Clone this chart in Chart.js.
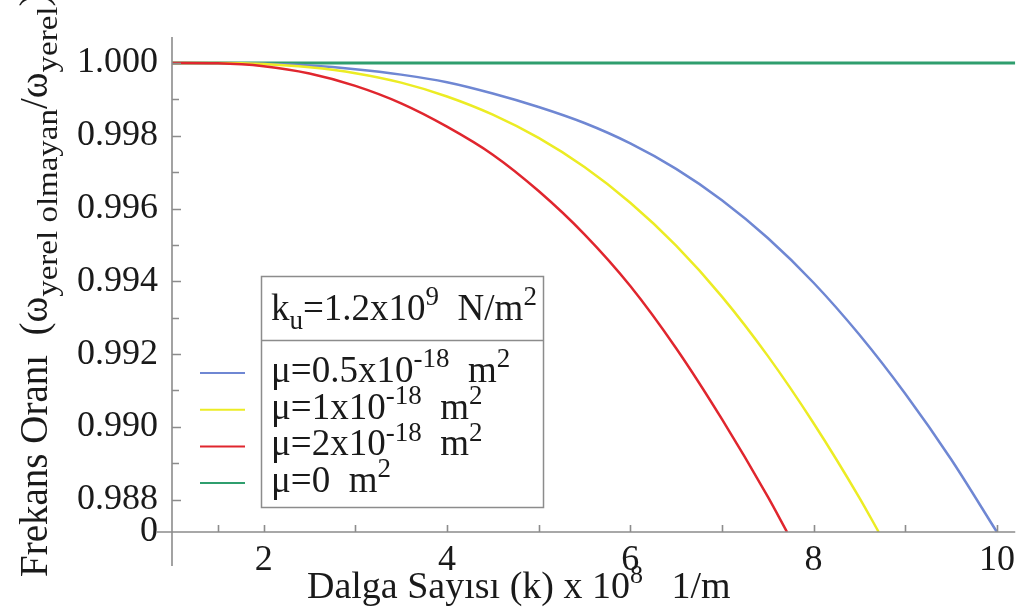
<!DOCTYPE html>
<html>
<head>
<meta charset="utf-8">
<script src="https://cdn.jsdelivr.net/npm/chart.js@4.4.1/dist/chart.umd.min.js"></script>
<style>
    html, body { margin: 0; padding: 0; background: #ffffff; }
</style>
</head>
<body>
<canvas id="myChart" width="1022" height="614"></canvas>
<script>
'use strict';

// wave number k (x 10^8 1/m) and frequency ratio
var kBlue = [1, 1.5, 2, 2.5, 3, 3.5, 4, 4.5, 5, 5.5, 6, 6.5, 7, 7.5, 8, 8.5, 9, 9.5, 10];
var blueValues = [1.00000, 1.00000, 0.99998, 0.99993, 0.99983, 0.99968, 0.99947, 0.99916, 0.99879, 0.99835,
                  0.99779, 0.99709, 0.99623, 0.99519, 0.99396, 0.99253, 0.99091, 0.98911, 0.98711];

var kYellow = [1, 1.5, 2, 2.5, 3, 3.5, 4, 4.5, 5, 5.5, 6, 6.5, 7, 7.5, 8, 8.5, 8.71];
var yellowValues = [1.00000, 1.00000, 0.99997, 0.99988, 0.99972, 0.99946, 0.99908, 0.99858, 0.99794, 0.99714,
                    0.99616, 0.99498, 0.99358, 0.99195, 0.99010, 0.98805, 0.98711];

var kRed = [1, 1.5, 2, 2.5, 3, 3.5, 4, 4.5, 5, 5.5, 6, 6.5, 7, 7.5, 7.71];
var redValues = [1.00000, 0.99999, 0.99991, 0.99971, 0.99937, 0.99889, 0.99825, 0.99748, 0.99648, 0.99529,
                 0.99387, 0.99216, 0.99021, 0.98808, 0.98711];

var kGreen = [1, 10.2];
var greenValues = [1.0, 1.0];

var xTickValues = [2, 4, 6, 8, 10];
var xTickLabels = ['2', '4', '6', '8', '10'];
var xMinorTicks = [1.5, 3, 5, 7, 9];

var yMin = 0.98711;
var yMax = 1.000714;
var yTickValues = [yMin, 0.988, 0.990, 0.992, 0.994, 0.996, 0.998, 1.000];
var yTickLabels = ['0', '0.988', '0.990', '0.992', '0.994', '0.996', '0.998', '1.000'];
var yMinorTicks = [0.989, 0.991, 0.993, 0.995, 0.997, 0.999];

var seriesColors = ['#6f87d3', '#ecec24', '#e0262e', '#2f9e6e'];

var SERIF = '"Liberation Serif", "Times New Roman", serif';

function points(ks, vs) {
    return ks.map(function(k, i) { return { x: k, y: vs[i] }; });
}

function lineSet(label, data, color, width, order) {
    return {
        label: label,
        data: data,
        borderColor: color,
        borderWidth: width,
        pointRadius: 0,
        fill: false,
        cubicInterpolationMode: 'monotone',
        order: order
    };
}

// text with sub / superscripts: parts = [[text, 'sup'|'sub'|'']]
function drawRich(c, x, y, parts, size, small, stretch) {
    parts.forEach(function(p) {
        var isSmall = p[1] === 'sup' || p[1] === 'sub';
        var fs = isSmall ? small : size;
        var sx = isSmall ? (stretch || 1) : 1;
        var dy = p[1] === 'sup' ? -size * 0.4 : (p[1] === 'sub' ? size * 0.25 : 0);
        c.font = fs + 'px ' + SERIF;
        c.save();
        c.translate(x, y + dy);
        c.scale(sx, 1);
        c.fillText(p[0], 0, 0);
        c.restore();
        x += c.measureText(p[0]).width * sx;
    });
    return x;
}

var axesPlugin = {
    id: 'crossAxes',
    afterDraw: function(chart) {
        var c = chart.ctx, a = chart.chartArea;
        var xs = chart.scales.x, ys = chart.scales.y;
        c.save();
        c.strokeStyle = '#8c8c8c';
        c.lineWidth = 1.6;
        c.beginPath();
        c.moveTo(157, a.bottom);
        c.lineTo(a.right, a.bottom);
        c.moveTo(a.left, a.top);
        c.lineTo(a.left, 566);
        xTickValues.concat(xMinorTicks).forEach(function(v) {
            var px = Math.round(xs.getPixelForValue(v)) + 0.5;
            c.moveTo(px, a.bottom);
            c.lineTo(px, a.bottom - 7);
        });
        yTickValues.slice(1).forEach(function(v) {
            var py = Math.round(ys.getPixelForValue(v)) + 0.5;
            c.moveTo(a.left, py);
            c.lineTo(a.left + 9, py);
        });
        yMinorTicks.forEach(function(v) {
            var py = Math.round(ys.getPixelForValue(v)) + 0.5;
            c.moveTo(a.left, py);
            c.lineTo(a.left + 7, py);
        });
        c.stroke();
        c.restore();
    }
};

var textPlugin = {
    id: 'richText',
    afterDraw: function(chart) {
        var c = chart.ctx;
        c.save();
        c.fillStyle = '#1a1a1a';
        c.textBaseline = 'alphabetic';
        c.textAlign = 'left';

        // x axis title
        drawRich(c, 307, 598, [['Dalga Sayısı (k) x 10', ''], ['8', 'sup'], ['   1/m', '']], 38, 26);

        // y axis title, rotated
        c.translate(47, 577);
        c.rotate(-Math.PI / 2);
        drawRich(c, 0, 0, [['Frekans Oranı  (ω', ''], ['yerel olmayan', 'sub'], ['/ω', ''], ['yerel', 'sub'], [')', '']], 39, 30, 1.1);
        c.restore();

        // legend box
        c.save();
        c.strokeStyle = '#8c8c8c';
        c.lineWidth = 1.5;
        c.strokeRect(261.5, 276.5, 282, 231);
        c.beginPath();
        c.moveTo(261.5, 340.5);
        c.lineTo(543.5, 340.5);
        c.stroke();

        c.fillStyle = '#1a1a1a';
        drawRich(c, 271, 320, [['k', ''], ['u', 'sub'], ['=1.2x10', ''], ['9', 'sup'], ['  N/m', ''], ['2', 'sup']], 37, 27);

        var entries = [
            [['μ=0.5x10', ''], ['-18', 'sup'], ['  m', ''], ['2', 'sup']],
            [['μ=1x10', ''], ['-18', 'sup'], ['  m', ''], ['2', 'sup']],
            [['μ=2x10', ''], ['-18', 'sup'], ['  m', ''], ['2', 'sup']],
            [['μ=0  m', ''], ['2', 'sup']]
        ];
        entries.forEach(function(parts, i) {
            var base = 382 + i * 36.7;
            c.fillStyle = '#1a1a1a';
            drawRich(c, 271, base, parts, 37, 27);
            c.strokeStyle = seriesColors[i];
            c.lineWidth = 2;
            c.beginPath();
            c.moveTo(200, base - 9);
            c.lineTo(245, base - 9);
            c.stroke();
        });
        c.restore();
    }
};

var ctx = document.getElementById('myChart');
var myChart = new Chart(ctx, {
    type: 'line',
    data: {
        datasets: [
            lineSet('μ=0 m²', points(kGreen, greenValues), seriesColors[3], 3, 4),
            lineSet('μ=0.5x10⁻¹⁸ m²', points(kBlue, blueValues), seriesColors[0], 2.5, 3),
            lineSet('μ=1x10⁻¹⁸ m²', points(kYellow, yellowValues), seriesColors[1], 2.5, 2),
            lineSet('μ=2x10⁻¹⁸ m²', points(kRed, redValues), seriesColors[2], 2.5, 1)
        ]
    },
    options: {
        responsive: false,
        animation: false,
        layout: { padding: { top: 37, right: 4, left: 0, bottom: 0 } },
        plugins: {
            legend: { display: false },
            tooltip: { enabled: false }
        },
        scales: {
            x: {
                type: 'linear',
                min: 1,
                max: 10.2,
                grid: { display: false, drawTicks: false },
                border: { display: false },
                afterBuildTicks: function(scale) {
                    scale.ticks = xTickValues.map(function(v) { return { value: v }; });
                },
                afterFit: function(scale) { scale.height = 82; },
                ticks: {
                    autoSkip: false,
                    maxRotation: 0,
                    padding: 7,
                    color: '#1a1a1a',
                    font: { family: SERIF, size: 36 },
                    callback: function(v, i) { return xTickLabels[i]; }
                }
            },
            y: {
                type: 'linear',
                min: yMin,
                max: yMax,
                grid: { display: false, drawTicks: false },
                border: { display: false },
                afterBuildTicks: function(scale) {
                    scale.ticks = yTickValues.map(function(v) { return { value: v }; });
                },
                afterFit: function(scale) { scale.width = 172; },
                ticks: {
                    autoSkip: false,
                    padding: 14,
                    color: '#1a1a1a',
                    font: { family: SERIF, size: 36 },
                    callback: function(v, i) { return yTickLabels[i]; }
                }
            }
        }
    },
    plugins: [axesPlugin, textPlugin]
});
</script>
</body>
</html>
